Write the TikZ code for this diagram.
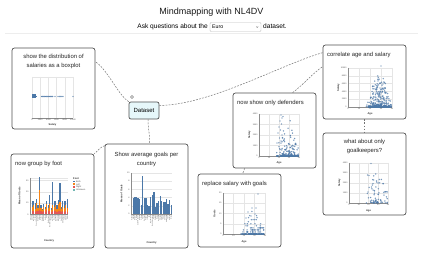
\documentclass[tikz,border=0pt]{standalone}
\usepackage{fontspec}
\setmainfont{Liberation Sans}
\usetikzlibrary{calc}
\definecolor{vblue}{HTML}{4C78A8}
\definecolor{vorange}{HTML}{F58518}
\definecolor{vred}{HTML}{E45756}
\definecolor{vteal}{HTML}{72B7B2}
\definecolor{dsfill}{HTML}{E6F7FA}
% grid: x0 y0 x1 y1 nx ny
\newcommand\mmgrid[6]{%
  \foreach \k in {0,...,#5}{\draw[gridl] ({#1+(#3-#1)*\k/#5},#2) -- ({#1+(#3-#1)*\k/#5},#4);}
  \foreach \k in {0,...,#6}{\draw[gridl] (#1,{#2+(#4-#2)*\k/#6}) -- (#3,{#2+(#4-#2)*\k/#6});}
  \draw[axisl] (#1,#2) -- (#1,#4) -- (#3,#4);
}
% x ticks: x0 x1 y labels n
\newcommand\mmxticks[5]{%
  \foreach \mml [count=\mmc from 0] in {#4}{\node[tick,anchor=north] at ({#1+(#2-#1)*\mmc/#5},#3) {\mml};}
}
% y ticks: x ytop ybottom labels(bottom->top) n
\newcommand\mmyticks[5]{%
  \foreach \mml [count=\mmc from 0] in {#4}{\node[tick,anchor=east] at (#1,{#3-(#3-#2)*\mmc/#5}) {\mml};}
}
% hash-based pseudo random in [0,1)
\newcommand\mmhash[2]{\pgfmathsetmacro#1{abs(frac(sin(#2)*437.5853))}}
% scatter: x0 y0 x1 y1 n seed xmid xspread power ; height shaped by distance to xmid
\newcommand\mmscat[9]{%
  \foreach \i in {1,...,#5}{%
    \mmhash\mma{\i*12.9898+#6*7.233}%
    \mmhash\mmb{\mma*997.31+#6*3.117}%
    \mmhash\mmr{\mmb*991.77+\i*0.731}%
    \pgfmathsetmacro\mmu{min(0.98,max(0.03,#7+#8*(\mma+\mmb-1)))}%
    \pgfmathsetmacro\mmX{#1+(#3-#1)*\mmu}%
    \pgfmathsetmacro\mmY{#4-(#4-#2)*0.95*pow(\mmr,#9)*max(0.12,1-2.6*abs(\mmu-#7))}%
    \draw[dot] (\mmX,\mmY) circle (0.6);
  }%
}
\newcommand\mmcountries{Albania,Austria,Belgium,Croatia,Czech Republic,England,Finland,France,Germany,Hungary,Iceland,Italy,Netherlands,North Macedonia,Poland,Portugal,Russia,Scotland,Slovakia,Slovenia,Spain,Sweden,Switzerland,Turkey,Ukraine,Wales}
\begin{document}
\begin{tikzpicture}[x=1pt,y=-1pt,
  card/.style={draw=black!68, line width=0.7pt, rounded corners=2.5pt, fill=white, inner sep=0pt},
  conn/.style={draw=black!55, line width=0.5pt, dash pattern=on 1.8pt off 1.3pt},
  ttl/.style={font=\fontsize{5.9}{9}\selectfont, text=black!85, inner sep=0pt, align=center},
  gridl/.style={draw=black!10, line width=0.25pt},
  axisl/.style={draw=black!45, line width=0.3pt},
  tick/.style={font=\fontsize{2}{2}\selectfont, text=black!70, inner sep=0.4pt},
  axt/.style={font=\fontsize{2.6}{2.6}\selectfont\bfseries, text=black!80, inner sep=0pt},
  dot/.style={draw=vblue, line width=0.2pt, fill=vblue, fill opacity=0.3, draw opacity=0.75}]
\useasboundingbox (0,0) rectangle (423,264);
\fill[white] (0,0) rectangle (423,264);

% header
\node[font=\fontsize{9}{10}\selectfont, text=black!90] (title) at (211.5,12) {Mindmapping with NL4DV};
\node[font=\fontsize{6.6}{7}\selectfont, anchor=base east, inner sep=0pt] (ask) at (208,29) {Ask questions about the};
\node[draw=black!25, line width=0.4pt, rounded corners=1pt, minimum width=51pt, minimum height=9pt, inner sep=0pt] (sel) at (235.5,27) {};
\node[font=\fontsize{5.2}{6}\selectfont, anchor=west, inner sep=0pt] (euro) at (212,27) {Euro};
\draw[black!50, line width=0.35pt] ($(sel.east)+(-5,-0.6)$) -- ($(sel.east)+(-4,0.6)$) -- ($(sel.east)+(-3,-0.6)$);
\node[font=\fontsize{6.6}{7}\selectfont, anchor=base west, inner sep=0pt] (dsw) at (263,29) {dataset.};
\draw[black!7, line width=0.5pt] (5,33.5) -- (418,33.5);

% cards
\node[card, minimum width=83pt, minimum height=81pt] (box1) at (53.5,88.5) {};
\node[card, minimum width=83pt, minimum height=74pt] (box3) at (364.5,82) {};
\node[card, minimum width=83pt, minimum height=75pt] (box4) at (274.5,130.5) {};
\node[card, minimum width=83pt, minimum height=82pt] (box5) at (364.5,174) {};
\node[card, minimum width=83pt, minimum height=94pt] (box6) at (52.5,201) {};
\node[card, minimum width=83pt, minimum height=104pt] (box7) at (146.5,196) {};
\node[card, minimum width=83pt, minimum height=73pt] (box8) at (239.5,210.5) {};
\node[card, fill=dsfill, rounded corners=2pt, minimum width=30pt, minimum height=17pt, font=\fontsize{6}{7}\selectfont] (dataset) at (144,110.5) {Dataset};
\node[circle, draw=black!50, line width=0.5pt, minimum size=3pt, inner sep=0pt] (dot0) at (132,97) {};

% connectors
\draw[conn] (dataset.north west) .. controls (118,95) and (108,70) .. ($(box1.north east)+(0,14)$);
\draw[conn] ($(dataset.east)+(0,-5)$) .. controls (210,105) and (280,65) .. ($(box3.north west)+(0,8)$);
\draw[conn] ($(box4.north west)+(60,0)$) .. controls (303,85) and (313,73) .. ($(box3.north west)+(0,22)$);
\draw[conn] ($(dataset.south)+(4,0)$) .. controls (148,128) and (150,136) .. ($(box7.north west)+(45,0)$);
\draw[conn] ($(box7.north west)+(0,2)$) .. controls (100,147) and (97,152) .. (box6.north east);
\draw[conn] ($(box4.south west)+(12,0)$) -- ($(box8.north west)+(45,0)$);
\draw[conn] (box3.south) -- (box5.north);

% titles
\node[ttl] (t1) at (53.5,61.5) {show the distribution of\\salaries as a boxplot};
\node[ttl, anchor=west] (t3) at (327,55) {correlate age and salary};
\node[ttl, anchor=west] (t4) at (237,103) {now show only defenders};
\node[ttl] (t5) at (364.5,146.5) {what about only\\goalkeepers?};
\node[ttl, anchor=west] (t6) at (15,164) {now group by foot};
\node[ttl] (t7) at (146.5,159.5) {Show average goals per\\country};
\node[ttl, anchor=west] (t8) at (202,184) {replace salary with goals};

% ---- boxplot chart
\foreach \k in {0,...,5}{\draw[gridl] ({32+41*\k/5},77) -- ({32+41*\k/5},118);}
\draw[gridl] (32,77) -- (73,77);
\draw[axisl] (32,118) -- (73,118);
\fill[vblue] (32.4,94.5) rectangle (35.6,98.5);
\draw[vblue, line width=0.4pt] (35.6,96.5) -- (37,96.5);
\foreach \x in {41.5,42.3,...,53.5,55,58,59.3,60.6,61.8,63,73}{\draw[dot] (\x,96.5) circle (0.6);}
\mmxticks{32}{73}{118.6}{0,2000,4000,6000,8000,10000}{5}
\node[axt] (sal1) at (52.5,124.5) {Salary};

% ---- correlate chart
\mmgrid{348}{68}{392}{107}{4}{5}
\mmscat{348}{68}{392}{107}{420}{3}{0.72}{0.32}{5}
\foreach \p in {(381,66),(379,79),(378,81),(380,83),(377,86),(383,84),(376,89),(380,88)}{\draw[dot] \p circle (0.6);}
\mmyticks{347}{68}{107}{0,2000,4000,6000,8000,10000}{5}
\mmxticks{348}{392}{107.6}{0,10,20,30,40}{4}
\node[axt] (age3) at (370,114) {Age};
\node[axt, rotate=90] (sal3) at (338.5,87.5) {Salary};

% ---- defenders chart
\mmgrid{259}{114}{299}{156}{4}{4}
\mmscat{259}{114}{299}{156}{260}{7}{0.74}{0.32}{6}
\foreach \p in {(281,115),(283,116.5),(282,118),(280,121),(281.5,124),(279,127),(280.5,130),(278,133),(282,135),(279.5,138),(281,141),(277,143),(284,140)}{\draw[dot] \p circle (0.6);}
\mmyticks{258}{114}{156}{0,1000,2000,3000,4000}{4}
\mmxticks{259}{299}{156.6}{0,10,20,30,40}{4}
\node[axt] (age4) at (279,163) {Age};
\node[axt, rotate=90] (sal4) at (249.5,135) {Salary};

% ---- goalkeepers chart
\mmgrid{349}{163}{388}{203}{4}{4}
\mmscat{349}{163}{388}{203}{75}{11}{0.72}{0.34}{3}
\foreach \p in {(371,163.5),(367.5,175),(369,175.5),(371.5,187),(368,192),(373,190)}{\draw[dot] \p circle (0.6);}
\mmyticks{348}{163}{203}{0,1000,2000,3000,4000}{4}
\mmxticks{349}{388}{203.6}{0,10,20,30,40}{4}
\node[axt] (age5) at (368.5,211) {Age};
\node[axt, rotate=90] (sal5) at (339.5,183) {Salary};

% ---- replace salary with goals chart
\mmgrid{223}{193}{265}{234}{4}{4}
\foreach \i in {1,...,160}{%
  \mmhash\mma{\i*12.9898+91.1}%
  \mmhash\mmb{\mma*997.31+13.7}%
  \mmhash\mmr{\mmb*991.77+\i*0.731}%
  \pgfmathsetmacro\mmu{min(0.97,max(0.4,0.72+0.3*(\mma+\mmb-1)))}%
  \pgfmathsetmacro\mmX{223+42*\mmu}%
  \pgfmathsetmacro\mmY{234-41*round(20*pow(\mmr,6)*max(0.1,1-2.6*abs(\mmu-0.72))*0.6)/20}%
  \draw[dot] (\mmX,\mmY) circle (0.6);
}
\foreach \p in {(258,194),(252,208),(256,208),(248,212),(255,214),(251,216),(246,218)}{\draw[dot] \p circle (0.6);}
\mmyticks{222}{193}{234}{0,5,10,15,20}{4}
\mmxticks{223}{265}{234.6}{0,10,20,30,40}{4}
\node[axt] (age8) at (244,241.5) {Age};
\node[axt, rotate=90] (gl8) at (214.5,213.5) {Goals};

% ---- show average goals chart
\foreach \k in {0,...,5}{\draw[gridl] (131,{214-41*\k/5}) -- (172,{214-41*\k/5});}
\foreach \h [count=\c] in {1.4,3.9,4.1,4.2,3.8,3.6,2.3,9.2,3.9,3.8,2.1,2.0,4.1,4.6,5.3,1.8,2.7,3.1,4.4,3.2,3.0,2.9,3.7,2.4,3.3,2.3}{%
  \fill[vblue] ({131+(\c-1)*41/26+0.15},214) rectangle ++(1.28,{-4.1*\h});
}
\draw[axisl] (131,173) -- (131,214) -- (172,214);
\mmyticks{130}{173}{214}{0,2,4,6,8,10}{5}
\foreach \mml [count=\mmc] in \mmcountries {\node[tick, font=\fontsize{1.5}{1.5}\selectfont, rotate=90, anchor=east, inner sep=0.2pt] at ({131+(\mmc-0.5)*41/26},214.8) {\mml};}
\node[axt, rotate=90] (mg7) at (121.5,193.5) {Mean of Goals};
\node[axt] (ct7) at (151.5,243) {Country};

% ---- group by foot chart
\foreach \v in {0,10,20,30}{\draw[gridl] (30,{214.5-1.13*\v}) -- (68,{214.5-1.13*\v});}
\draw[gridl] (30,178) -- (68,178);
\foreach \r/\l/\b [count=\c] in {2/1/2,3/4/5,3/5/4,2/3/5,3/7/4,3/3/2,4/18/11,3/3/2,2/2/1,3/4/2,2/3/2,4/5/3,3/3/2,3/6/8,2/2/2,3/5/21,3/4/5,3/5/4,2/3/3,3/6/4,3/8/17,2/3/2,3/4/5,2/4/6,3/5/4,2/4/8}{%
  \pgfmathsetmacro\mmx{30+(\c-1)*38/26+0.15}
  \fill[vred] (\mmx,214.5) rectangle ++(1.18,{-1.13*\r});
  \fill[vorange] (\mmx,{214.5-1.13*\r}) rectangle ++(1.18,{-1.13*\l});
  \fill[vblue] (\mmx,{214.5-1.13*(\r+\l)}) rectangle ++(1.18,{-1.13*\b});
}
\draw[axisl] (30,178) -- (30,214.5) -- (68,214.5);
\mmyticks{29}{180.6}{214.5}{0,10,20,30}{3}
\foreach \mml [count=\mmc] in \mmcountries {\node[tick, font=\fontsize{1.5}{1.5}\selectfont, rotate=90, anchor=east, inner sep=0.2pt] at ({30+(\mmc-0.5)*38/26},215.3) {\mml};}
\node[axt, rotate=90] (mg6) at (19.5,196) {Mean of Goals};
\node[axt] (ct6) at (49,241) {Country};
% legend
\node[axt, anchor=west] (lg) at (73,178.5) {Foot};
\foreach \col/\nm [count=\c] in {vblue/Both,vorange/Left,vred/Right,vteal/Unknown}{%
  \fill[\col] (73.3,{179.6+2.8*\c}) rectangle ++(1.8,-1.8);
  \node[tick, anchor=west, font=\fontsize{2.2}{2.2}\selectfont] at (75.5,{178.7+2.8*\c}) {\nm};
}
\end{tikzpicture}
\end{document}
